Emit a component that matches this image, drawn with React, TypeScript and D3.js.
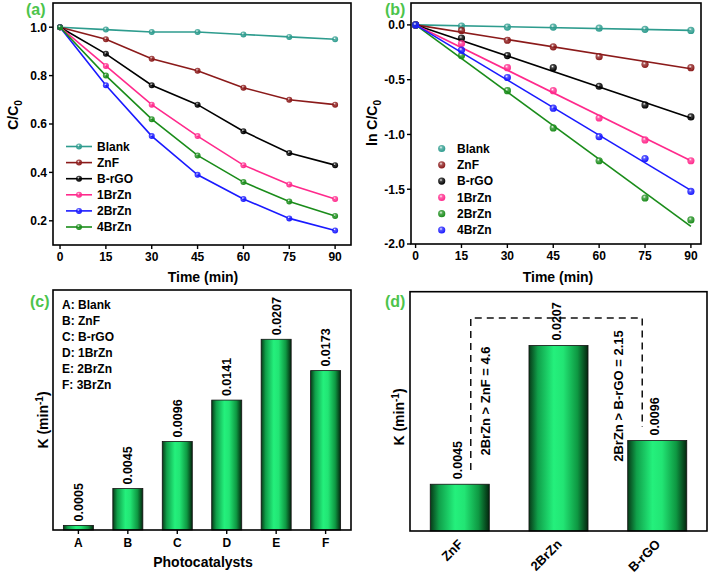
import React from "react";
import * as d3 from "d3";

const times = [0, 15, 30, 45, 60, 75, 90];
const seriesA = ["Blank", "ZnF", "B-rGO", "1BrZn", "2BrZn", "4BrZn"];
const colorsA = ["#2e9c8e", "#8b1a1a", "#000000", "#ff2a8c", "#1a1aff", "#1a8c1a"];
const blankA = [1.0, 0.99, 0.98, 0.98, 0.97, 0.96, 0.95];
const znfA = [1.0, 0.95, 0.87, 0.82, 0.75, 0.7, 0.68];
const brgoA = [1.0, 0.89, 0.76, 0.68, 0.57, 0.48, 0.43];
const br1A = [1.0, 0.84, 0.68, 0.55, 0.43, 0.35, 0.29];
const br2A = [1.0, 0.76, 0.55, 0.39, 0.29, 0.21, 0.16];
const br4A = [1.0, 0.8, 0.62, 0.47, 0.36, 0.28, 0.22];
const valuesA = [blankA, znfA, brgoA, br1A, br2A, br4A];
const yTicksA = [0.2, 0.4, 0.6, 0.8, 1.0];

const seriesB = ["Blank", "ZnF", "B-rGO", "1BrZn", "2BrZn", "4BrZn"];
const colorsB = ["#2e9c8e", "#8b1a1a", "#000000", "#ff2a8c", "#1a8c1a", "#1a1aff"];
const blankB = [0, -0.01, -0.02, -0.02, -0.03, -0.04, -0.05];
const znfB = [0, -0.05, -0.14, -0.2, -0.29, -0.36, -0.39];
const brgoB = [0, -0.12, -0.28, -0.39, -0.56, -0.73, -0.84];
const br1B = [0, -0.17, -0.39, -0.6, -0.85, -1.05, -1.24];
const br2B = [0, -0.28, -0.6, -0.94, -1.24, -1.58, -1.78];
const br4B = [0, -0.23, -0.48, -0.76, -1.02, -1.22, -1.52];
const valuesB = [blankB, znfB, brgoB, br1B, br2B, br4B];
const fitEndB = [-0.05, -0.4, -0.85, -1.24, -1.84, -1.51];
const yTicksB = [0.0, -0.5, -1.0, -1.5, -2.0];

const catsC = ["A", "B", "C", "D", "E", "F"];
const namesC = ["Blank", "ZnF", "B-rGO", "1BrZn", "2BrZn", "3BrZn"];
const valsC = [0.0005, 0.0045, 0.0096, 0.0141, 0.0207, 0.0173];

const catsD = ["ZnF", "2BrZn", "B-rGO"];
const valsD = [0.0045, 0.0207, 0.0096];
const ratioLabels = ["2BrZn > ZnF = 4.6", "2BrZn > B-rGO = 2.15"];

const FONT = "'Liberation Sans', Arial, sans-serif";
const panelGreen = "#4cc44c";

function Sphere({ cx, cy, r, id }: { cx: number; cy: number; r: number; id: number }) {
  return <circle cx={cx} cy={cy} r={r} fill={`url(#sph${id})`} />;
}

export default function App() {
  // Panel a
  const xa = d3.scaleLinear().domain([-2.3, 95.2]).range([53, 351]);
  const ya = d3.scaleLinear().domain([0.1, 1.1]).range([245, 3]);
  const lineA = d3.line<number>().x((_, i) => xa(times[i])).y((d) => ya(d));

  // Panel b
  const xb = d3.scaleLinear().domain([-1.5, 93.3]).range([411, 701]);
  const yb = d3.scaleLinear().domain([-2.0, 0.2]).range([244, 3]);

  // Panel c
  const xc = d3.scaleBand<string>().domain(catsC).range([53, 351]).paddingInner(0.393).paddingOuter(0.21);
  const yc = d3.scaleLinear().domain([0, 0.02605]).range([530, 290]);

  // Panel d
  const xd = d3.scaleBand<string>().domain(catsD).range([410, 707]).paddingInner(0.402).paddingOuter(0.205);
  const yd = d3.scaleLinear().domain([-0.00096, 0.02698]).range([531, 291.7]);

  const allColors = Array.from(new Set([...colorsA, ...colorsB]));
  const cid = (c: string) => allColors.indexOf(c);

  const dZnF = xd("ZnF")! + xd.bandwidth() / 2;
  const dBrgo = xd("B-rGO")! + xd.bandwidth() / 2;
  const bracketTop = 318;

  return (
    <svg width={709} height={574} style={{ position: "absolute", left: 0, top: 0, background: "#fff" }} fontFamily={FONT} fontWeight="bold">
      <defs>
        {allColors.map((c, i) => (
          <radialGradient key={i} id={`sph${i}`} cx="0.4" cy="0.35" r="0.65">
            <stop offset="0" stopColor="#ffffff" />
            <stop offset="0.35" stopColor={c} stopOpacity={0.75} />
            <stop offset="1" stopColor={c} />
          </radialGradient>
        ))}
        <linearGradient id="barGrad" x1="0" x2="1" y1="0" y2="0">
          <stop offset="0" stopColor="#073a18" />
          <stop offset="0.15" stopColor="#10a04a" />
          <stop offset="0.42" stopColor="#24f07c" />
          <stop offset="0.58" stopColor="#22e574" />
          <stop offset="0.82" stopColor="#0e9842" />
          <stop offset="1" stopColor="#04260e" />
        </linearGradient>
      </defs>

      {/* ================= Panel a ================= */}
      <text x={26} y={15} fontSize={16} fill={panelGreen}>(a)</text>
      {valuesA.map((vals, si) => (
        <g key={si}>
          <path d={lineA(vals)!} fill="none" stroke={colorsA[si]} strokeWidth={1.6} />
          {vals.map((v, i) => (
            <Sphere key={i} cx={xa(times[i])} cy={ya(v)} r={3} id={cid(colorsA[si])} />
          ))}
        </g>
      ))}
      <rect x={53} y={3} width={298} height={242} fill="none" stroke="#000" strokeWidth={1.6} />
      {times.map((t) => (
        <g key={t}>
          <line x1={xa(t)} x2={xa(t)} y1={245} y2={249} stroke="#000" strokeWidth={1.4} />
          <text x={xa(t)} y={261} fontSize={12} textAnchor="middle">{t}</text>
        </g>
      ))}
      {yTicksA.map((t) => (
        <g key={t}>
          <line x1={49} x2={53} y1={ya(t)} y2={ya(t)} stroke="#000" strokeWidth={1.4} />
          <text x={47} y={ya(t) + 4.3} fontSize={12} textAnchor="end">{t.toFixed(1)}</text>
        </g>
      ))}
      <text x={203} y={282} fontSize={14} textAnchor="middle">Time (min)</text>
      <text transform="translate(18,115) rotate(-90)" fontSize={14} textAnchor="middle">
        C/C<tspan fontSize={10} dy={4}>0</tspan>
      </text>
      {seriesA.map((s, i) => {
        const y = 146.5 + i * 16.1;
        return (
          <g key={s}>
            <line x1={66} x2={92} y1={y} y2={y} stroke={colorsA[i]} strokeWidth={1.6} />
            <Sphere cx={79} cy={y} r={3} id={cid(colorsA[i])} />
            <text x={97} y={y + 4.3} fontSize={12}>{s}</text>
          </g>
        );
      })}

      {/* ================= Panel b ================= */}
      <text x={385} y={15} fontSize={16} fill={panelGreen}>(b)</text>
      {valuesB.map((vals, si) => (
        <g key={si}>
          <line x1={xb(0)} y1={yb(0)} x2={xb(90)} y2={yb(fitEndB[si])} stroke={colorsB[si]} strokeWidth={1.6} />
          {vals.map((v, i) => (
            <Sphere key={i} cx={xb(times[i])} cy={yb(v)} r={3.6} id={cid(colorsB[si])} />
          ))}
        </g>
      ))}
      <rect x={411} y={3} width={290} height={241} fill="none" stroke="#000" strokeWidth={1.6} />
      {times.map((t) => (
        <g key={t}>
          <line x1={xb(t)} x2={xb(t)} y1={244} y2={248} stroke="#000" strokeWidth={1.4} />
          <text x={xb(t)} y={260} fontSize={12} textAnchor="middle">{t}</text>
        </g>
      ))}
      {yTicksB.map((t) => (
        <g key={t}>
          <line x1={407} x2={411} y1={yb(t)} y2={yb(t)} stroke="#000" strokeWidth={1.4} />
          <text x={405} y={yb(t) + 4.3} fontSize={12} textAnchor="end">{t.toFixed(1)}</text>
        </g>
      ))}
      <text x={558} y={282} fontSize={14} textAnchor="middle">Time (min)</text>
      <text transform="translate(377,123) rotate(-90)" fontSize={14} textAnchor="middle">
        ln C/C<tspan fontSize={10} dy={4}>0</tspan>
      </text>
      {seriesB.map((s, i) => {
        const y = 148.5 + i * 16.3;
        return (
          <g key={s}>
            <Sphere cx={441.7} cy={y} r={3.6} id={cid(colorsB[i])} />
            <text x={457} y={y + 4.3} fontSize={12}>{s}</text>
          </g>
        );
      })}

      {/* ================= Panel c ================= */}
      <text x={30} y={307} fontSize={16} fill={panelGreen}>(c)</text>
      {catsC.map((c, i) => {
        const x0 = xc(c)!;
        const cx = x0 + xc.bandwidth() / 2;
        return (
          <g key={c}>
            <rect x={x0} y={yc(valsC[i])} width={xc.bandwidth()} height={530 - yc(valsC[i])} fill="url(#barGrad)" stroke="#111" strokeWidth={0.8} />
            <text transform={`translate(${cx + 4.5},${yc(valsC[i]) - 4}) rotate(-90)`} fontSize={12.5}>
              {valsC[i].toFixed(4)}
            </text>
            <line x1={cx} x2={cx} y1={530} y2={534} stroke="#000" strokeWidth={1.4} />
            <text x={cx} y={547} fontSize={12} textAnchor="middle">{c}</text>
          </g>
        );
      })}
      <rect x={53} y={290} width={298} height={240} fill="none" stroke="#000" strokeWidth={1.6} />
      {catsC.map((c, i) => (
        <text key={c} x={62} y={309 + i * 15.9} fontSize={12}>{c}: {namesC[i]}</text>
      ))}
      <text x={203} y={567} fontSize={14} textAnchor="middle">Photocatalysts</text>
      <text transform="translate(48,420) rotate(-90)" fontSize={14} textAnchor="middle">
        K (min<tspan fontSize={10} dy={-5}>-1</tspan><tspan dy={5}>)</tspan>
      </text>

      {/* ================= Panel d ================= */}
      <text x={385} y={307} fontSize={16} fill={panelGreen}>(d)</text>
      <path
        d={`M${dZnF + 11},470 L${dZnF + 11},${bracketTop} L${dBrgo - 15},${bracketTop} L${dBrgo - 15},427`}
        fill="none"
        stroke="#111"
        strokeWidth={1.5}
        strokeDasharray="7,5"
      />
      {catsD.map((c, i) => {
        const x0 = xd(c)!;
        const cx = x0 + xd.bandwidth() / 2;
        return (
          <g key={c}>
            <rect x={x0} y={yd(valsD[i])} width={xd.bandwidth()} height={531 - yd(valsD[i])} fill="url(#barGrad)" stroke="#111" strokeWidth={0.8} />
            <text transform={`translate(${cx + 2},${yd(valsD[i]) - 5}) rotate(-90)`} fontSize={12.5}>
              {valsD[i].toFixed(4)}
            </text>
            <text transform={`translate(${cx + 4},${545}) rotate(-45)`} fontSize={13} textAnchor="end">{c}</text>
          </g>
        );
      })}
      <rect x={410} y={291.7} width={297} height={239.3} fill="none" stroke="#000" strokeWidth={1.6} />
      <text transform={`translate(${dZnF + 30},401) rotate(-90)`} fontSize={13} textAnchor="middle">
        {ratioLabels[0]}
      </text>
      <text transform={`translate(${dBrgo - 34},396) rotate(-90)`} fontSize={13} textAnchor="middle">
        {ratioLabels[1]}
      </text>
      <text transform="translate(404,417) rotate(-90)" fontSize={14} textAnchor="middle">
        K (min<tspan fontSize={10} dy={-5}>-1</tspan><tspan dy={5}>)</tspan>
      </text>
    </svg>
  );
}
